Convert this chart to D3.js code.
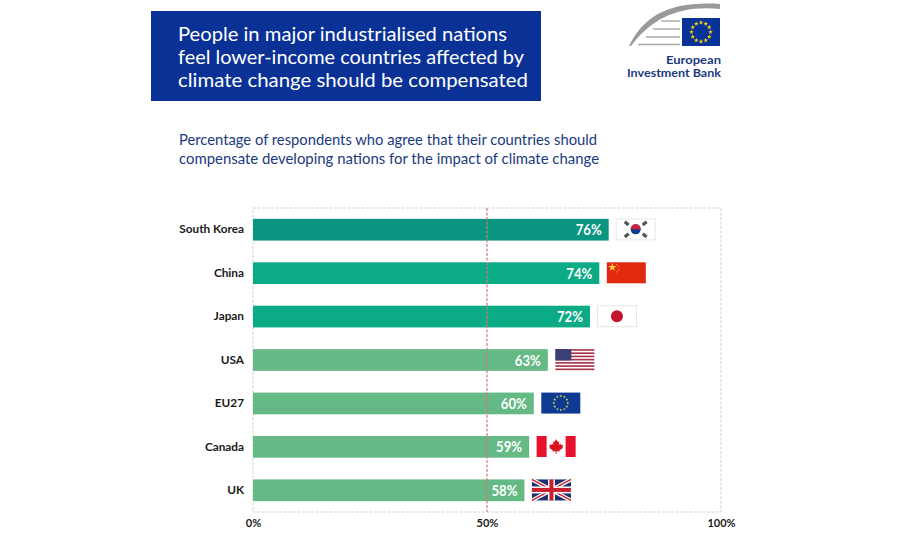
<!DOCTYPE html>
<html>
<head>
<meta charset="utf-8">
<script src="https://cdn.jsdelivr.net/npm/d3@7"></script>
<style>
  html, body { margin: 0; background: #fff; }
  svg { display: block; }
  text { font-family: Lato, "Open Sans", sans-serif; }
  .domain { display: none; }
</style>
</head>
<body>
<svg id="chart" width="900" height="540"></svg>
<script>
const countries = ["South Korea", "China", "Japan", "USA", "EU27", "Canada", "UK"];
const agreePct = [76, 74, 72, 63, 60, 59, 58];
const barColors = ["#0a9580", "#0aab85", "#0aab85", "#65b985", "#65b985", "#65b985", "#65b985"];
const flagCodes = ["kr", "cn", "jp", "us", "eu", "ca", "uk"];
const pctTicks = [0, 50, 100];
const titleLines = [
  "People in major industrialised nations",
  "feel lower-income countries affected by",
  "climate change should be compensated"
];
const subtitleLines = [
  "Percentage of respondents who agree that their countries should",
  "compensate developing nations for the impact of climate change"
];

const svg = d3.select("#chart");
const navy = "#0a3296";
const FLAG_W = 39, FLAG_H = 21;

function box(g, fill, stroke) {
  return g.append("rect").attr("width", FLAG_W).attr("height", FLAG_H)
    .attr("fill", fill).attr("stroke", stroke || "none");
}

function starRing(g, cx, cy, r, size, color) {
  d3.range(12).forEach(i => {
    const a = i * Math.PI / 6;
    g.append("path")
      .attr("d", d3.symbol(d3.symbolStar, size)())
      .attr("transform", `translate(${cx + r * Math.cos(a)},${cy + r * Math.sin(a)})`)
      .attr("fill", color);
  });
}

const flagDrawers = {
  kr(g) {
    box(g, "#fff", "#e6e6e6");
    const cx = FLAG_W / 2, cy = FLAG_H / 2;
    g.append("circle").attr("cx", cx).attr("cy", cy).attr("r", 5).attr("fill", "#0b3f94");
    g.append("path")
      .attr("d", `M${cx - 5} ${cy} A5 5 0 0 1 ${cx + 5} ${cy} Z`)
      .attr("fill", "#d21f3c");
    [[-9, -6, 40], [9, -6, -40], [-9, 6, -40], [9, 6, 40]].forEach(([dx, dy, rot]) => {
      g.append("rect").attr("x", -2.5).attr("y", -1.6).attr("width", 5).attr("height", 3.2)
        .attr("fill", "#555")
        .attr("transform", `translate(${cx + dx},${cy + dy}) rotate(${rot})`);
    });
  },
  cn(g) {
    box(g, "#e2290f");
    g.append("path").attr("d", d3.symbol(d3.symbolStar, 22)())
      .attr("transform", "translate(5.5,5)").attr("fill", "#ffd83a");
    [[10, 2.5], [12, 4.5], [12, 7.5], [10, 9.5]].forEach(([sx, sy]) => {
      g.append("circle").attr("cx", sx).attr("cy", sy).attr("r", 0.6).attr("fill", "#ffd83a");
    });
  },
  jp(g) {
    box(g, "#fff", "#e6e6e6");
    g.append("circle").attr("cx", FLAG_W / 2).attr("cy", FLAG_H / 2).attr("r", 6).attr("fill", "#c4122f");
  },
  us(g) {
    box(g, "#fff");
    d3.range(7).forEach(i => {
      g.append("rect").attr("y", i * 3.23).attr("width", FLAG_W).attr("height", 1.62).attr("fill", "#a8324a");
    });
    g.append("rect").attr("width", 16).attr("height", 11.3).attr("fill", "#3c3f73");
  },
  eu(g) {
    box(g, "#0f3a94");
    starRing(g, FLAG_W / 2, FLAG_H / 2, 7, 2.5, "#d8dc4a");
  },
  ca(g) {
    box(g, "#fff");
    g.append("rect").attr("width", 10).attr("height", FLAG_H).attr("fill", "#e8112d");
    g.append("rect").attr("x", FLAG_W - 10).attr("width", 10).attr("height", FLAG_H).attr("fill", "#e8112d");
    // rough maple leaf
    g.append("path")
      .attr("d", "M0 -7 L1.6 -4 L3.2 -4.8 L2.6 -1 L4.2 -2.4 L4.8 -1 L7 -1.3 L6.2 1 L7 1.8 L3.2 4.4 L3.6 5.6 L0.4 5.2 L0.4 8 L-0.4 8 L-0.4 5.2 L-3.6 5.6 L-3.2 4.4 L-7 1.8 L-6.2 1 L-7 -1.3 L-4.8 -1 L-4.2 -2.4 L-2.6 -1 L-3.2 -4.8 L-1.6 -4 Z")
      .attr("transform", `translate(${FLAG_W / 2},${FLAG_H / 2 - 0.5})`)
      .attr("fill", "#d8131f");
  },
  uk(g) {
    box(g, "#1f2f6e");
    [[0, 0, FLAG_W, FLAG_H], [FLAG_W, 0, 0, FLAG_H]].forEach(([a, b, c, d]) => {
      g.append("line").attr("x1", a).attr("y1", b).attr("x2", c).attr("y2", d)
        .attr("stroke", "#fff").attr("stroke-width", 4);
      g.append("line").attr("x1", a).attr("y1", b).attr("x2", c).attr("y2", d)
        .attr("stroke", "#c8202f").attr("stroke-width", 1.4);
    });
    g.append("rect").attr("x", FLAG_W / 2 - 3.5).attr("width", 7).attr("height", FLAG_H).attr("fill", "#fff");
    g.append("rect").attr("y", FLAG_H / 2 - 3.5).attr("width", FLAG_W).attr("height", 7).attr("fill", "#fff");
    g.append("rect").attr("x", FLAG_W / 2 - 2).attr("width", 4).attr("height", FLAG_H).attr("fill", "#c8202f");
    g.append("rect").attr("y", FLAG_H / 2 - 2).attr("width", FLAG_W).attr("height", 4).attr("fill", "#c8202f");
  }
};

function drawLogo(g) {
  g.append("path")
    .attr("d", "M629 46 C645 14 672 1 720 4 L720 9 C680 5 652 18 631 46 Z")
    .attr("fill", "#9a9a9a");
  [[661, 21], [653, 29], [646, 37], [638, 44.5]].forEach(([x1, ly]) => {
    g.append("line").attr("x1", x1).attr("x2", 680).attr("y1", ly).attr("y2", ly)
      .attr("stroke", "#a8a8a8").attr("stroke-width", 1.4);
  });
  g.append("rect").attr("x", 682).attr("y", 18).attr("width", 38).attr("height", 28).attr("fill", navy);
  starRing(g, 701, 32, 9.5, 7, "#f5d90a");
  g.selectAll(".logotext").data(["European", "Investment Bank"]).join("text")
    .attr("class", "logotext")
    .attr("x", 721)
    .attr("y", (d, i) => 64 + i * 13)
    .attr("text-anchor", "end")
    .attr("fill", "#1b3a80")
    .attr("font-size", 10.8)
    .attr("font-weight", 700)
    .attr("textLength", (d, i) => [55, 94][i])
    .attr("lengthAdjust", "spacingAndGlyphs")
    .text(d => d);
}

const x = d3.scaleLinear().domain([0, 100]).range([253, 721]);
const y = d3.scaleBand().domain(countries).range([208, 512])
  .paddingInner(0.5).paddingOuter(0.25);

// --- Header ---
svg.append("rect").attr("x", 151).attr("y", 11).attr("width", 390).attr("height", 90).attr("fill", navy);

svg.selectAll(".title").data(titleLines).join("text")
  .attr("class", "title")
  .attr("x", 178)
  .attr("y", (d, i) => 41 + i * 23)
  .attr("fill", "#fff")
  .attr("font-size", 19)
  .attr("textLength", (d, i) => [329, 346, 350][i])
  .attr("lengthAdjust", "spacingAndGlyphs")
  .text(d => d);

svg.selectAll(".subtitle").data(subtitleLines).join("text")
  .attr("class", "subtitle")
  .attr("x", 179)
  .attr("y", (d, i) => 145 + i * 18.5)
  .attr("fill", "#1b3a80")
  .attr("font-size", 15)
  .attr("textLength", (d, i) => [418, 420][i])
  .attr("lengthAdjust", "spacingAndGlyphs")
  .text(d => d);

drawLogo(svg.append("g"));

// --- Plot frame ---
svg.append("rect")
  .attr("x", x(0)).attr("y", 208)
  .attr("width", x(100) - x(0)).attr("height", 304)
  .attr("fill", "none")
  .attr("stroke", "#cfcfcf")
  .attr("stroke-dasharray", "3 1.5");

// --- Bars ---
const rows = countries.map((name, i) => ({ name, value: agreePct[i], color: barColors[i], flag: flagCodes[i] }));

svg.selectAll(".bar").data(rows).join("rect")
  .attr("class", "bar")
  .attr("x", x(0))
  .attr("y", d => y(d.name))
  .attr("width", d => x(d.value) - x(0))
  .attr("height", y.bandwidth())
  .attr("fill", d => d.color);

// 50% reference line
svg.append("line")
  .attr("x1", x(50)).attr("x2", x(50))
  .attr("y1", 208).attr("y2", 512)
  .attr("stroke", "#e2737a")
  .attr("stroke-width", 1.2)
  .attr("stroke-dasharray", "3 1.5");

svg.selectAll(".value").data(rows).join("text")
  .attr("class", "value")
  .attr("x", d => x(d.value) - 7)
  .attr("y", d => y(d.name) + y.bandwidth() / 2 + 5.5)
  .attr("text-anchor", "end")
  .attr("fill", "#fff")
  .attr("font-size", 16)
  .attr("font-weight", 700)
  .attr("textLength", 26)
  .attr("lengthAdjust", "spacingAndGlyphs")
  .text(d => d.value + "%");

// --- Axes ---
const yAxis = svg.append("g")
  .attr("transform", `translate(${x(0)},0)`)
  .call(d3.axisLeft(y).tickSize(0).tickPadding(9));
yAxis.selectAll("text")
  .attr("fill", "#1a1a1a").attr("font-size", 11.8).attr("font-weight", 700)
  .style("font-family", "Lato, sans-serif");

const xAxis = svg.append("g")
  .attr("transform", "translate(0,512)")
  .call(d3.axisBottom(x).tickValues(pctTicks).tickFormat(d => d + "%").tickSize(0).tickPadding(7));
xAxis.selectAll("text")
  .attr("fill", "#1a1a1a").attr("font-size", 11).attr("font-weight", 700)
  .style("font-family", "Lato, sans-serif");

// --- Flags ---
svg.selectAll(".flag").data(rows).join("g")
  .attr("class", "flag")
  .attr("transform", d => `translate(${x(d.value) + 7.5},${y(d.name)})`)
  .each(function (d) { flagDrawers[d.flag](d3.select(this)); });
</script>
</body>
</html>
